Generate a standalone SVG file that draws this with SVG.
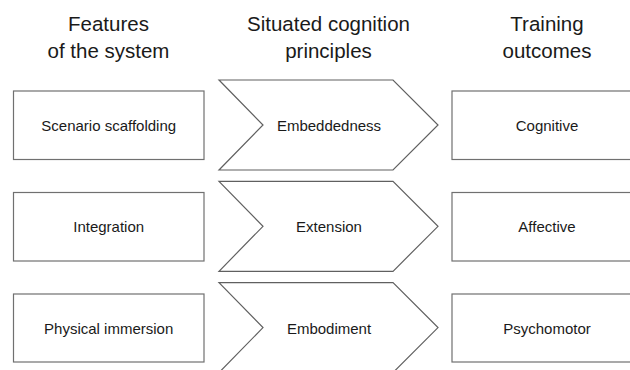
<svg xmlns="http://www.w3.org/2000/svg" width="630" height="370" viewBox="0 0 630 370">
<style>
.hdr{font-family:"Liberation Sans",Arial,sans-serif;font-size:20.5px;fill:#1a1a1a;text-anchor:middle}
.lbl{font-family:"Liberation Sans",Arial,sans-serif;font-size:15px;fill:#1a1a1a;text-anchor:middle}
.box{fill:#ffffff;stroke:#707070;stroke-width:1.2}
.chev{fill:#ffffff;stroke:#606060;stroke-width:1.2}
</style>
<rect width="630" height="370" fill="#ffffff"/>
<g id="headers">
<text class="hdr" x="108.5" y="31">Features</text>
<text class="hdr" x="108.5" y="58">of the system</text>
<text class="hdr" x="328.5" y="31">Situated cognition</text>
<text class="hdr" x="328.5" y="58">principles</text>
<text class="hdr" x="547" y="31">Training</text>
<text class="hdr" x="547" y="58">outcomes</text>
</g>
<g id="connectors"></g>
<g id="feature-scenario">
<rect class="box" x="13.5" y="91" width="190.5" height="68.5"/>
<text class="lbl" x="108.7" y="130.5">Scenario scaffolding</text>
</g>
<g id="feature-integration">
<rect class="box" x="13.5" y="192.5" width="190.5" height="68.5"/>
<text class="lbl" x="108.7" y="232">Integration</text>
</g>
<g id="feature-immersion">
<rect class="box" x="13.5" y="294" width="190.5" height="68"/>
<text class="lbl" x="108.7" y="333.5">Physical immersion</text>
</g>
<g id="principle-embeddedness">
<path class="chev" d="M219,80 L393,80 L438,125 L393,170 L219,170 L263,125 Z"/>
<text class="lbl" x="329" y="130.5">Embeddedness</text>
</g>
<g id="principle-extension">
<path class="chev" d="M219,181.3 L393,181.3 L438,226.3 L393,271.3 L219,271.3 L263,226.3 Z"/>
<text class="lbl" x="329" y="232">Extension</text>
</g>
<g id="principle-embodiment">
<path class="chev" d="M219,282.6 L393,282.6 L438,327.6 L393,372.6 L219,372.6 L263,327.6 Z"/>
<text class="lbl" x="329" y="333.5">Embodiment</text>
</g>
<g id="outcome-cognitive">
<rect class="box" x="452" y="91" width="191" height="68.5"/>
<text class="lbl" x="547" y="130.5">Cognitive</text>
</g>
<g id="outcome-affective">
<rect class="box" x="452" y="192.5" width="191" height="68.5"/>
<text class="lbl" x="547" y="232">Affective</text>
</g>
<g id="outcome-psychomotor">
<rect class="box" x="452" y="294" width="191" height="68"/>
<text class="lbl" x="547" y="333.5">Psychomotor</text>
</g>
</svg>
